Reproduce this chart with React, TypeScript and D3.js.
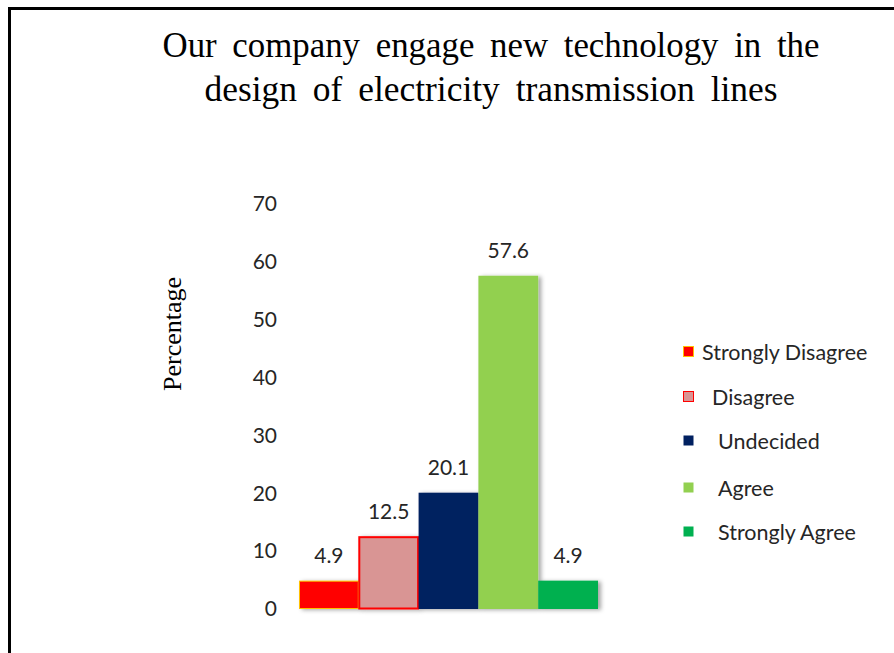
import React, { useEffect, useRef } from "react";
import * as d3 from "d3";

const categories = ["Strongly Disagree", "Disagree", "Undecided", "Agree", "Strongly Agree"];
const values = [4.9, 12.5, 20.1, 57.6, 4.9];
const yTicks = [0, 10, 20, 30, 40, 50, 60, 70];
const fills = ["#FF0000", "#D99594", "#002060", "#92D050", "#00B050"];
const strokes = ["#FFC000", "#FF0000", "none", "none", "none"];
const titleLines = ["Our company engage new technology in the", "design of electricity transmission lines"];
const yLabel = "Percentage";

const W = 894;
const H = 653;

export default function App() {
  const ref = useRef<SVGSVGElement | null>(null);

  useEffect(() => {
    document.body.style.margin = "0";
    const svg = d3.select(ref.current);
    svg.selectAll("*").remove();

    svg.append("rect").attr("x", 0).attr("y", 0).attr("width", W).attr("height", H).attr("fill", "#fff");

    // frame
    svg.append("path")
      .attr("d", `M9.5,${H} L9.5,8.5 L${W},8.5`)
      .attr("fill", "none")
      .attr("stroke", "#000")
      .attr("stroke-width", 3);

    const defs = svg.append("defs");
    const f = defs.append("filter").attr("id", "sh").attr("x", "-20%").attr("y", "-20%").attr("width", "150%").attr("height", "150%");
    f.append("feDropShadow").attr("dx", 3).attr("dy", 1).attr("stdDeviation", 2)
      .attr("flood-color", "#000").attr("flood-opacity", 0.35);

    // title
    const titleW = [657, 573];
    const titleY = [57, 101];
    titleLines.forEach((t, i) => {
      svg.append("text")
        .attr("x", 491)
        .attr("y", titleY[i])
        .attr("text-anchor", "middle")
        .attr("font-family", "'Liberation Serif', 'Times New Roman', serif")
        .attr("font-size", 35)
        .attr("fill", "#000")
        .style("word-spacing", "7px")
        .attr("textLength", titleW[i])
        .attr("lengthAdjust", "spacingAndGlyphs")
        .text(t);
    });

    const x = d3.scaleBand<string>().domain(categories).range([299, 598]).padding(0);
    const y = d3.scaleLinear().domain([0, 70]).range([609, 204]);

    // y tick labels
    svg.append("g").selectAll("text").data(yTicks).join("text")
      .attr("x", 277)
      .attr("y", (d) => y(d))
      .attr("dy", "0.35em")
      .attr("text-anchor", "end")
      .attr("font-family", "Lato, 'Open Sans', sans-serif")
      .attr("font-size", 21)
      .attr("fill", "#262626")
      .text((d) => String(d));

    // y label
    svg.append("text")
      .attr("transform", `translate(181,334) rotate(-90)`)
      .attr("text-anchor", "middle")
      .attr("font-family", "'Liberation Serif', 'Times New Roman', serif")
      .attr("font-size", 26)
      .attr("fill", "#000")
      .text(yLabel);

    // bars
    const data = categories.map((c, i) => ({ c, v: values[i], i }));
    const g = svg.append("g");
    g.selectAll("rect").data(data).join("rect")
      .attr("x", (d) => x(d.c)! + (strokes[d.i] !== "none" ? 0.5 : 0))
      .attr("y", (d) => y(d.v) + (strokes[d.i] !== "none" ? 0.5 : 0))
      .attr("width", (d) => x.bandwidth() - (strokes[d.i] !== "none" ? 1 : 0))
      .attr("height", (d) => y(0) - y(d.v) - (strokes[d.i] !== "none" ? 1 : 0))
      .attr("fill", (d) => fills[d.i])
      .attr("stroke", (d) => strokes[d.i])
      .attr("stroke-width", (d) => (d.i === 1 ? 2 : 1))
      .attr("filter", "url(#sh)");

    // value labels
    svg.append("g").selectAll("text").data(data).join("text")
      .attr("x", (d) => x(d.c)! + x.bandwidth() / 2)
      .attr("y", (d) => y(d.v) - 18)
      .attr("text-anchor", "middle")
      .attr("font-family", "Lato, 'Open Sans', sans-serif")
      .attr("font-size", 21)
      .attr("fill", "#262626")
      .text((d) => d.v.toFixed(1));

    // legend
    const legY = [352, 397, 441, 488, 532];
    const legTextX = [702, 712, 718, 718, 718];
    const leg = svg.append("g");
    data.forEach((d, i) => {
      leg.append("rect")
        .attr("x", 683.5)
        .attr("y", legY[i] - 5.5)
        .attr("width", 10)
        .attr("height", 10)
        .attr("fill", fills[i])
        .attr("stroke", strokes[i])
        .attr("stroke-width", 1);
      leg.append("text")
        .attr("x", legTextX[i])
        .attr("y", legY[i])
        .attr("dy", "0.35em")
        .attr("font-family", "Lato, 'Open Sans', sans-serif")
        .attr("font-size", 21.5)
        .attr("fill", "#262626")
        .text(d.c);
    });
  }, []);

  return (
    <svg
      ref={ref}
      width={W}
      height={H}
      style={{ position: "absolute", left: 0, top: 0, display: "block" }}
    />
  );
}
